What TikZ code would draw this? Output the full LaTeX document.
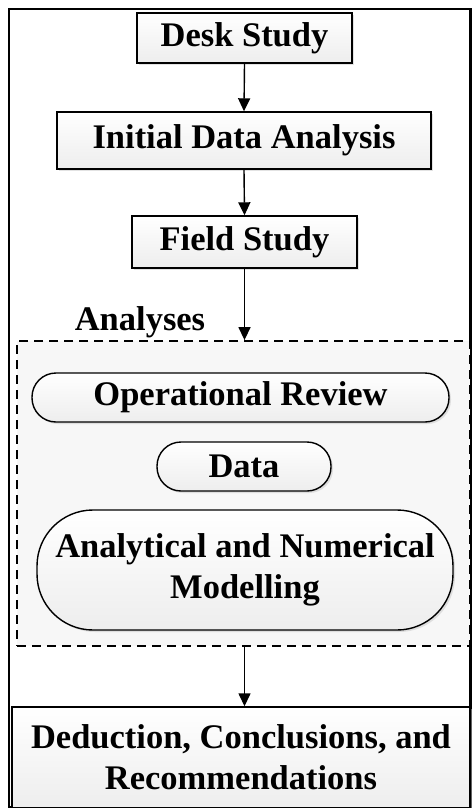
\documentclass[tikz,border=0pt]{standalone}
\usepackage{fontspec}
\setmainfont{Liberation Serif}
\usetikzlibrary{arrows.meta,shadows,positioning}
\tikzset{
  txt/.style={font=\bfseries\fontsize{34.5}{41}\selectfont},
  box/.style={txt, draw=black, line width=1.4pt, top color=white, bottom color=gray!14,
    drop shadow={shadow xshift=2pt, shadow yshift=-2pt, fill=gray!45},
    align=center, inner sep=0pt},
  pill/.style={box, rounded corners=24pt},
  arr/.style={line width=1.4pt, -{Triangle[width=12pt,length=13pt]}},
  grp/.style={draw=black, line width=1.8pt, dash pattern=on 9pt off 6pt, fill=gray!6, inner sep=0pt}
}
\begin{document}
\begin{tikzpicture}[x=1pt,y=-1pt]
\useasboundingbox (0,0) rectangle (471,808);
\fill[white] (0,0) rectangle (471,808);
\draw[line width=2.6pt] (9,9) rectangle (470.5,807.5);

\node[grp, minimum width=453pt, minimum height=305pt] (grp) at (243.5,493.5) {};
\node[txt, anchor=base] (lab) at (140,330) {Analyses};

\node[box, minimum width=215pt, minimum height=50pt] (desk) at (244.5,38) {Desk Study};
\node[box, minimum width=374pt, minimum height=57pt] (init) at (244,140.5) {Initial Data Analysis};
\node[box, minimum width=225pt, minimum height=52pt] (field) at (244.5,242) {Field Study};

\node[pill, minimum width=417pt, minimum height=49pt] (op) at (240.5,397.5) {Operational Review};
\node[pill, minimum width=174pt, minimum height=49pt] (data) at (244,466.5) {Data};
\node[box, rounded corners=56pt, minimum width=416pt, minimum height=120pt] (anal) at (245,570)
  {\fontsize{34.5}{47}\selectfont Analytical and Numerical\\ Modelling};

\node[box, minimum width=458pt, minimum height=101pt] (ded) at (241,757.5)
  {\fontsize{34.5}{41}\selectfont Deduction, Conclusions, and\\ Recommendations};

\draw[arr] (desk.south) -- (init.north);
\draw[arr] (init.south) -- (field.north);
\draw[arr] (field.south) -- (field.south |- grp.north);
\draw[arr] (field.south |- grp.south) -- (field.south |- ded.north);
\end{tikzpicture}
\end{document}
